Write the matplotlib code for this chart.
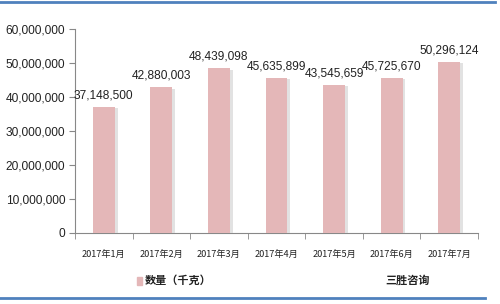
import matplotlib
matplotlib.use("Agg")
import matplotlib.pyplot as plt
import matplotlib.patheffects as pe
from matplotlib.ticker import FuncFormatter, MultipleLocator
from matplotlib.lines import Line2D

categories = ["2017年1月", "2017年2月", "2017年3月", "2017年4月", "2017年5月", "2017年6月", "2017年7月"]
values = [37148500, 42880003, 48439098, 45635899, 43545659, 45725670, 50296124]
series_name = "数量（千克）"
source = "三胜咨询"

plt.rcParams['font.family'] = ['Liberation Sans', 'Noto Sans CJK SC', 'DejaVu Sans']

fig = plt.figure(figsize=(5.0, 3.04), dpi=100)
ax = fig.add_axes([0.15, 0.2336, 0.806, 0.671])

bar_color = '#E4B7B8'
x = list(range(len(categories)))
bars = ax.bar(x, values, width=0.38, color=bar_color, zorder=3,
              path_effects=[pe.SimplePatchShadow(offset=(2, -1), shadow_rgbFace='#D0D0D0', alpha=0.6), pe.Normal()])

for xi, v in zip(x, values):
    ax.text(xi, v + 1.6e6, f"{v:,}", ha='center', va='bottom', fontsize=8.6, color='#222222', zorder=5)

ax.set_xlim(-0.5, len(categories) - 0.5)
ax.set_ylim(0, 60000000)
ax.yaxis.set_major_locator(MultipleLocator(10000000))
ax.yaxis.set_major_formatter(FuncFormatter(lambda v, p: f"{int(v):,}"))
ax.set_xticks(x)
ax.set_xticklabels(categories, family=['Noto Sans CJK SC'], fontsize=6.6, color='#222222', fontweight='medium')
ax.set_xticks([i - 0.5 for i in range(len(categories) + 1)], minor=True)
ax.tick_params(axis='x', which='major', length=0, pad=12)
ax.tick_params(axis='x', which='minor', length=4, color='#888888', direction='out')
ax.tick_params(axis='y', which='major', length=4, color='#888888', labelsize=8.6, labelcolor='#222222', pad=3)

for s in ['top', 'right']:
    ax.spines[s].set_visible(False)
for s in ['left', 'bottom']:
    ax.spines[s].set_color('#888888')
    ax.spines[s].set_linewidth(0.8)

# Legend
fig.patches.append(plt.Rectangle((0.274, 0.064), 0.010, 0.026, transform=fig.transFigure, color=bar_color))
fig.text(0.29, 0.077, series_name, family=['Noto Sans CJK SC'], fontsize=8, fontweight='bold', ha='left', va='center', color='#222222')
fig.text(0.77, 0.077, source, family=['Noto Sans CJK SC'], fontsize=8, fontweight='bold', ha='left', va='center', color='#222222')

# Blue frame lines
fig.add_artist(Line2D([0.0, 0.99], [0.993, 0.993], transform=fig.transFigure, color='#4F81BD', lw=2))
fig.add_artist(Line2D([0.0, 0.97], [0.02, 0.02], transform=fig.transFigure, color='#4F81BD', lw=2))

fig.savefig("out.png", dpi=100)
